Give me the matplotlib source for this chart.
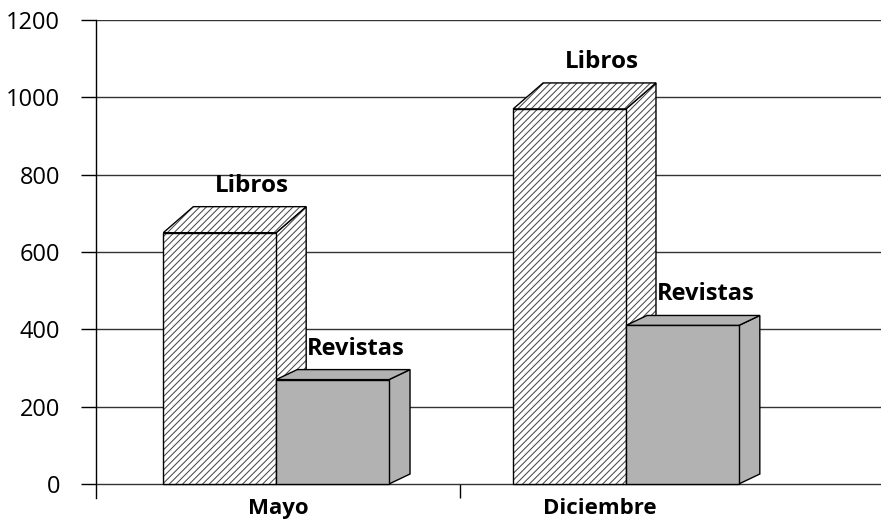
import numpy as np
import matplotlib
matplotlib.use("Agg")
import matplotlib.pyplot as plt
from matplotlib.patches import Polygon

# data
categories = ["Mayo", "Diciembre"]
series_names = ["Libros", "Revistas"]
libros = [650, 970]
revistas = [270, 410]
y_ticks = [0, 200, 400, 600, 800, 1000, 1200]

plt.rcParams["font.family"] = ["Open Sans", "DejaVu Sans"]
plt.rcParams["hatch.linewidth"] = 0.75

W, H = 881, 520
fig = plt.figure(figsize=(W / 100, H / 100), dpi=100)
ax = fig.add_axes([96 / W, 22 / H, 785 / W, 478 / H])

px_x = 364.0            # pixels per category slot
px_y = 464.0 / 1200     # pixels per unit on y
ax.set_xlim(-0.5, -0.5 + 785 / px_x)
ax.set_ylim(-14 / px_y, 1200)

# layout: slight perspective shift of each group, bar width, 3d depth (px)
shift = [-0.005, -0.044]
label_pos = [0.0, 0.885]
w = 0.31
depth = [(30, 26), (21, 10)]
styles = [
    dict(face="white", hatch="/////", hatch_col="#4a4a4a"),
    dict(face="#b2b2b2", hatch=None, hatch_col=None),
]
label_size = [17.5, 17]

centers = np.arange(len(categories)) + np.array(shift)
for s, (name, vals) in enumerate(zip(series_names, [libros, revistas])):
    dxp, dyp = depth[s]
    dx, dy = dxp / px_x, dyp / px_y
    st = styles[s]
    z = 2 + s
    for i, h in enumerate(vals):
        x0 = centers[i] - w + s * w
        front = [(x0, 0), (x0 + w, 0), (x0 + w, h), (x0, h)]
        top = [(x0, h), (x0 + w, h), (x0 + w + dx, h + dy), (x0 + dx, h + dy)]
        side = [(x0 + w, 0), (x0 + w, h), (x0 + w + dx, h + dy), (x0 + w + dx, dy)]
        for k, poly in enumerate([side, top, front]):
            ax.add_patch(Polygon(poly, closed=True, facecolor=st["face"],
                                 edgecolor=st["hatch_col"] or st["face"],
                                 hatch=st["hatch"], lw=0, zorder=z + k * 0.1))
            ax.add_patch(Polygon(poly, closed=True, fill=False, edgecolor="black",
                                 lw=1, zorder=z + k * 0.1 + 0.05))
        ax.annotate(name, (x0 + w / 2, h), xytext=((dxp + 2) * 0.72, (dyp + 9) * 0.72),
                    textcoords="offset points", ha="center", va="bottom",
                    fontsize=label_size[s], fontweight="bold", zorder=10)

ax.set_yticks(y_ticks)
ax.set_yticklabels([str(v) for v in y_ticks], fontsize=17)
ax.tick_params(axis="y", length=10.8, width=1, color="black", pad=15, direction="out")
ax.yaxis.grid(True, color="#333333", lw=1)
ax.set_axisbelow(True)

ax.set_xticks(label_pos)
ax.set_xticklabels(categories, fontsize=16, fontweight="bold")
ax.set_xticks([0.5], minor=True)
ax.tick_params(axis="x", which="major", length=0, pad=0)
ax.tick_params(axis="x", which="minor", length=10, width=1, direction="in", color="black")

for side_name in ["top", "right", "bottom"]:
    ax.spines[side_name].set_visible(False)
ax.spines["left"].set_color("black")
ax.spines["left"].set_linewidth(1)

fig.savefig("out.png", dpi=100)
